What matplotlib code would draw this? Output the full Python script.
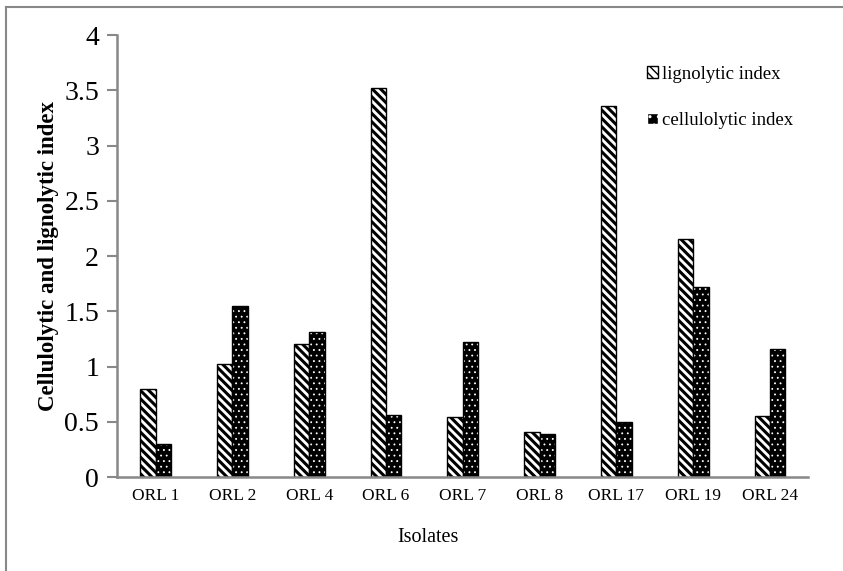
import matplotlib
matplotlib.use("Agg")
import matplotlib.pyplot as plt
import numpy as np
from matplotlib.lines import Line2D
from matplotlib.patches import Patch

isolates = ["ORL 1", "ORL 2", "ORL 4", "ORL 6", "ORL 7", "ORL 8", "ORL 17", "ORL 19", "ORL 24"]
lignolytic = [0.80, 1.02, 1.20, 3.52, 0.54, 0.41, 3.36, 2.15, 0.55]
cellulolytic = [0.30, 1.55, 1.31, 0.56, 1.22, 0.39, 0.50, 1.72, 1.16]

plt.rcParams["font.family"] = ["Liberation Serif", "DejaVu Serif"]

fig = plt.figure(figsize=(8.43, 5.71), dpi=100)
ax = fig.add_axes([0.139, 0.1646, 0.82, 0.774])

x = np.arange(len(isolates))
w = 0.2
with plt.rc_context({"hatch.linewidth": 2.2}):
    ax.bar(x - w / 2, lignolytic, w, color="white", edgecolor="black", hatch="\\\\\\\\", linewidth=1.0)
    h1 = Patch(facecolor="white", edgecolor="black", hatch="\\\\\\\\", label="lignolytic index")
with plt.rc_context({"hatch.linewidth": 0.6}):
    ax.bar(x + w / 2, cellulolytic, w, color="black", edgecolor="white", hatch="...", linewidth=0)
    h2 = Patch(facecolor="black", edgecolor="white", hatch="..", label="cellulolytic index")
ax.bar(x + w / 2, cellulolytic, w, fill=False, edgecolor="black", linewidth=1.0)

W, H = 843, 571
ax.legend(handles=[h1, h2], loc="upper left", bbox_to_anchor=(647 / W, 1 - 66 / H),
          bbox_transform=fig.transFigure, frameon=False, fontsize=13.5,
          handlelength=0.6, handleheight=0.6, handletextpad=0.2, labelspacing=1.55,
          borderaxespad=0, borderpad=0)

ax.set_xlim(-0.5, len(isolates) - 0.5)
ax.set_ylim(0, 4)
ax.set_yticks(np.arange(0, 4.01, 0.5))
ax.set_yticklabels(["0", "0.5", "1", "1.5", "2", "2.5", "3", "3.5", "4"], fontsize=20)
ax.set_xticks(x)
ax.set_xticklabels(isolates, fontsize=12.5)
ax.tick_params(axis="x", length=0, pad=8)
ax.tick_params(axis="y", length=7, width=1.5, color="#888888", pad=6)

for s in ["top", "right"]:
    ax.spines[s].set_visible(False)
for s in ["left", "bottom"]:
    ax.spines[s].set_color("#888888")
    ax.spines[s].set_linewidth(1.8)

ax.set_xlabel("Isolates", fontsize=14.5)
ax.xaxis.set_label_coords(0.45, -0.115)
ax.set_ylabel("Cellulolytic and lignolytic index", fontsize=16.5, fontweight="bold", labelpad=4)

# outer frame (cropped at right and bottom)
fig.add_artist(Line2D([6 / W, 1.0], [1 - 7 / H, 1 - 7 / H], color="#888888", lw=1.5,
                      transform=fig.transFigure))
fig.add_artist(Line2D([6 / W, 6 / W], [0, 1 - 7 / H], color="#888888", lw=1.5,
                      transform=fig.transFigure))

fig.savefig("out.png", dpi=100)
